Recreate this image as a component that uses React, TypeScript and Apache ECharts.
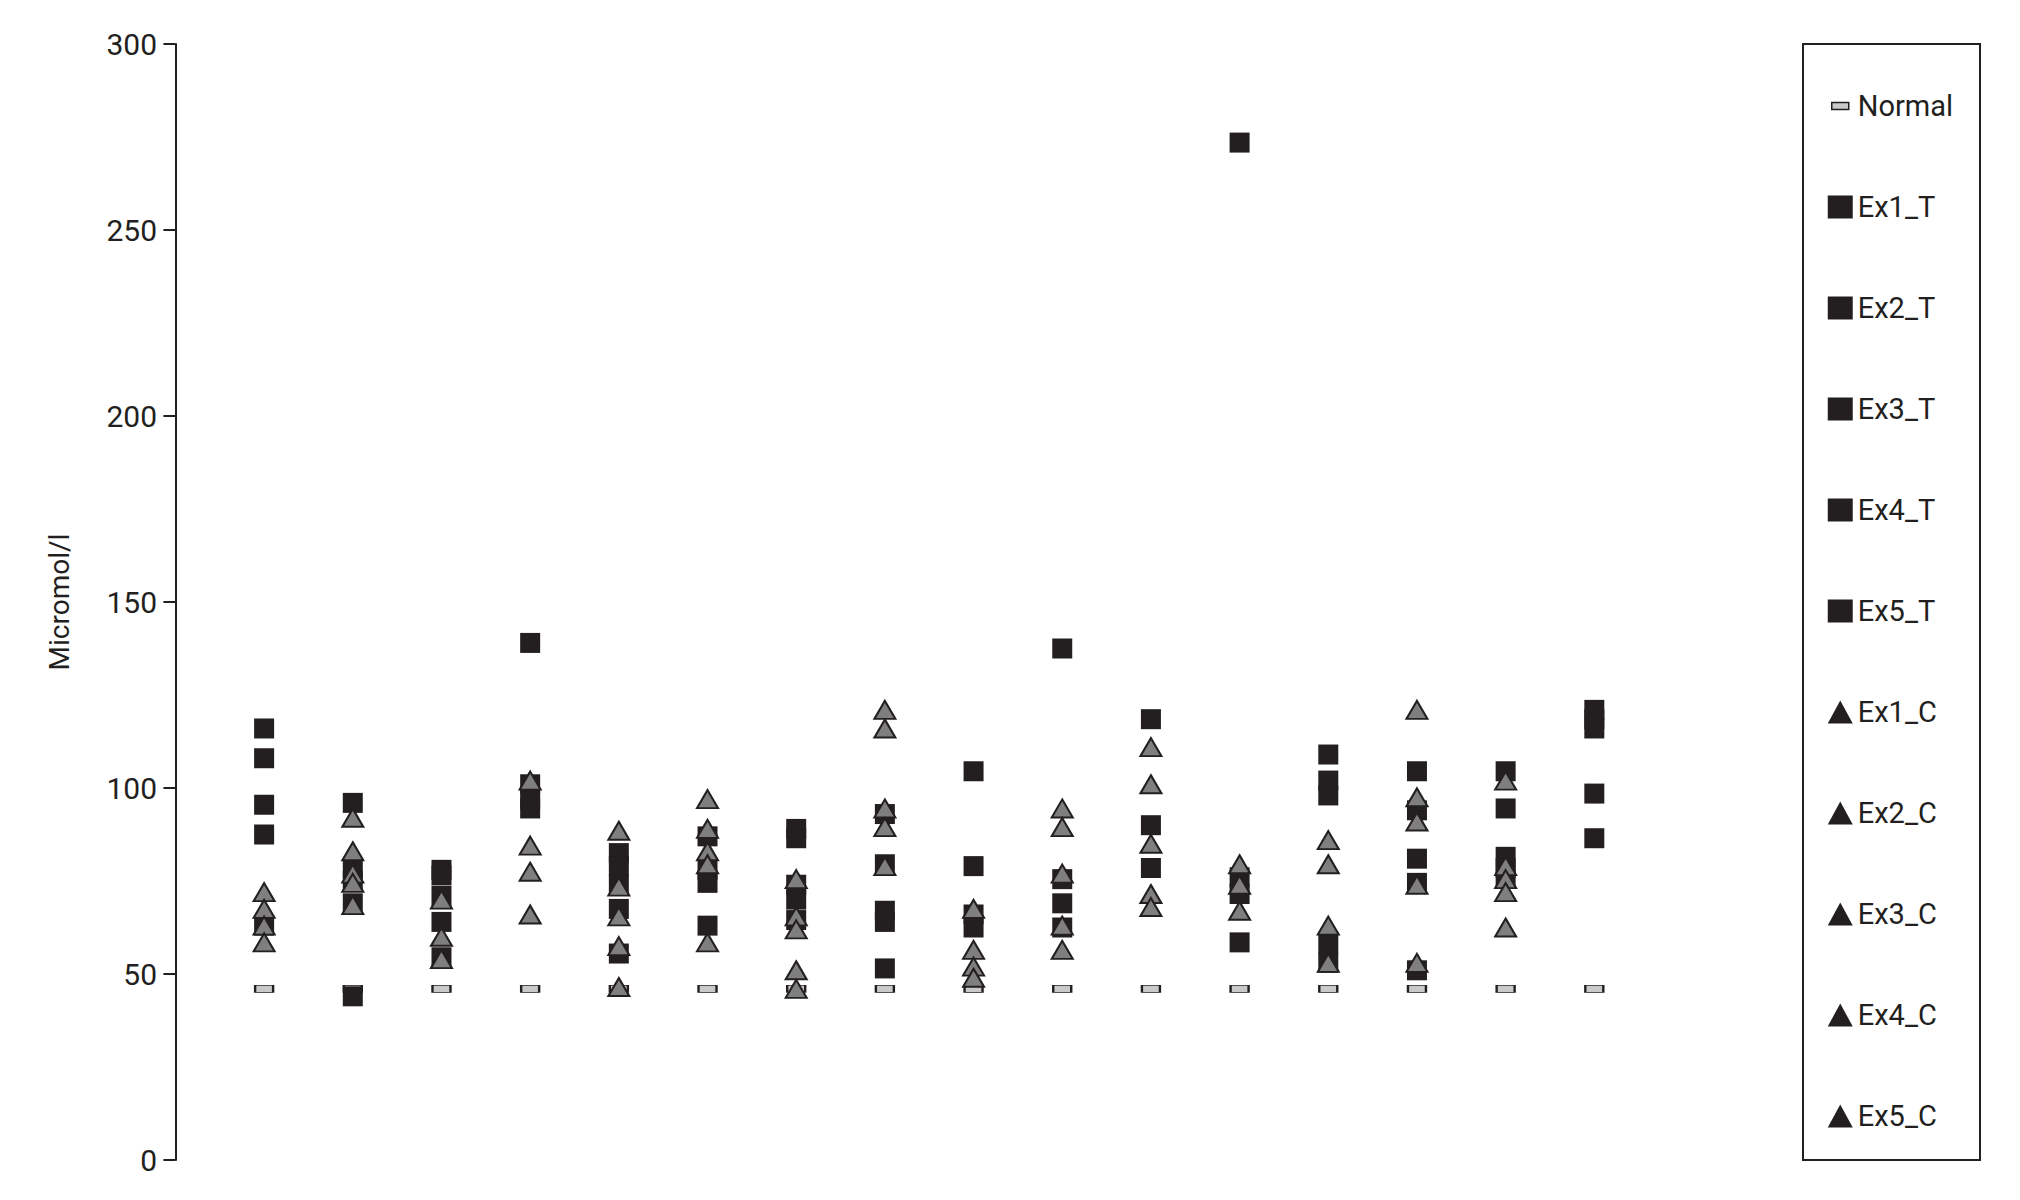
import React, { useEffect, useRef } from "react";
import * as echarts from "echarts";

// 16 sample groups along x (no labels shown)
const groups = [1, 2, 3, 4, 5, 6, 7, 8, 9, 10, 11, 12, 13, 14, 15, 16];

const normal = [46, 46, 46, 46, 46, 46, 46, 46, 46, 46, 46, 46, 46, 46, 46, 46];

const ex1T = [116, 96, 78, 139, 82.5, 87, 89, 93, 104.5, 137.5, 118.5, 273.5, 109, 104.5, 104.5, 121];
const ex2T = [108, 78.5, 76.5, 101, 79, 78, 86.5, 79.5, 79, 75.5, 90, 76, 102, 94, 94.5, 118.5];
const ex3T = [95.5, 75, 71, 97, 74, 74.5, 74, 67, 66, 69, 78.5, 71.5, 98, 81, 81.5, 116];
const ex4T = [87.5, 69, 64, 94.5, 67.5, 63, 70, 64, 62.5, 62.5, null, 58.5, 58, 74.5, 78.5, 98.5];
const ex5T = [63, 44, 54.5, null, 55.5, null, 64.5, 51.5, null, null, null, null, 53, 51, 76, 86.5];

const ex1C = [72, 92, 70, 102, 88.5, 97, 75.5, 121, 67.5, 94.5, 111, 79.5, 86, 121, 102, null];
const ex2C = [67.5, 83, 60, 84.5, 73.5, 89, 65.5, 116, 56.5, 89.5, 101, 74, 79.5, 97.5, 79, null];
const ex3C = [63, 77, 54, 77.5, 65.5, 83, 62, 94.5, 52, 77, 85, 67, 63, 91, 75.5, null];
const ex4C = [58.5, 74.5, null, 66, 57.5, 79.5, 51, 89.5, 49, 63, 71.5, null, 53, 74, 72, null];
const ex5C = [null, 68.5, null, null, 46.5, 58.5, 46, 79, null, 56.5, 68, null, null, 53, 62.5, null];

const yTicks = [0, 50, 100, 150, 200, 250, 300];

const FONT = "Roboto, 'Liberation Sans', sans-serif";
const INK = "#231f20";

function toPoints(values: (number | null)[]) {
  const pts: number[][] = [];
  values.forEach((v, i) => {
    if (v !== null && v !== undefined) pts.push([groups[i], v]);
  });
  return pts;
}

export default function App() {
  const ref = useRef<HTMLDivElement>(null);

  useEffect(() => {
    if (!ref.current) return;
    const chart = echarts.init(ref.current, undefined, { renderer: "svg" });

    const tSeries = [
      ["Ex1_T", ex1T],
      ["Ex2_T", ex2T],
      ["Ex3_T", ex3T],
      ["Ex4_T", ex4T],
      ["Ex5_T", ex5T],
    ] as [string, (number | null)[]][];
    const cSeries = [
      ["Ex1_C", ex1C],
      ["Ex2_C", ex2C],
      ["Ex3_C", ex3C],
      ["Ex4_C", ex4C],
      ["Ex5_C", ex5C],
    ] as [string, (number | null)[]][];

    const series: any[] = [
      {
        name: "Normal",
        type: "scatter",
        symbol: "rect",
        symbolSize: [18, 7],
        itemStyle: { color: "#c9c9c9", borderColor: INK, borderWidth: 1.5, opacity: 1 },
        data: toPoints(normal),
        z: 2,
      },
      ...tSeries.map(([name, vals]) => ({
        name,
        type: "scatter",
        symbol: "rect",
        symbolSize: 20,
        itemStyle: { color: INK, opacity: 1 },
        data: toPoints(vals),
        z: 3,
      })),
      ...cSeries.map(([name, vals]) => ({
        name,
        type: "scatter",
        symbol: "triangle",
        symbolSize: [21, 18],
        itemStyle: { color: "#7f7f7f", borderColor: INK, borderWidth: 2, opacity: 1 },
        data: toPoints(vals),
        z: 4,
      })),
    ];

    const legendData: any[] = [
      {
        name: "Normal",
        icon: "path://M0 0M25 23M4 8L21 8L21 15L4 15Z",
        itemStyle: { color: "#c9c9c9", borderColor: INK, borderWidth: 1.5 },
      },
      ...tSeries.map(([name]) => ({
        name,
        icon: "rect",
        itemStyle: { color: INK, borderWidth: 0 },
      })),
      ...cSeries.map(([name]) => ({
        name,
        icon: "triangle",
        itemStyle: { color: INK, borderWidth: 0 },
      })),
    ];

    chart.setOption({
      animation: false,
      backgroundColor: "#ffffff",
      grid: { left: 171, top: 44, width: 1512, height: 1116, containLabel: false },
      xAxis: {
        type: "value",
        min: -0.05,
        max: 17,
        show: false,
        splitLine: { show: false },
      },
      yAxis: {
        type: "value",
        min: yTicks[0],
        max: yTicks[yTicks.length - 1],
        interval: 50,
        name: "Micromol/l",
        nameLocation: "middle",
        nameGap: 98,
        nameTextStyle: { fontFamily: FONT, fontSize: 28, color: INK },
        axisLine: { show: true, lineStyle: { color: INK, width: 2 } },
        axisTick: { show: true, length: 12, inside: false, lineStyle: { color: INK, width: 2 } },
        axisLabel: { fontFamily: FONT, fontSize: 30, color: INK, margin: 14 },
        splitLine: { show: false },
      },
      legend: {
        orient: "vertical",
        left: 1827,
        top: 89,
        padding: 0,
        itemGap: 67,
        itemWidth: 25,
        itemHeight: 23,
        selectedMode: false,
        textStyle: { fontFamily: FONT, fontSize: 29, lineHeight: 34, color: INK },
        data: legendData,
      },
      graphic: [
        {
          type: "rect",
          shape: { x: 1803, y: 44, width: 177, height: 1116 },
          style: { fill: "none", stroke: INK, lineWidth: 2 },
          silent: true,
        },
      ],
      series,
    });

    return () => chart.dispose();
  }, []);

  return (
    <div
      ref={ref}
      style={{ position: "absolute", left: 0, top: 0, width: 2020, height: 1200 }}
    />
  );
}
